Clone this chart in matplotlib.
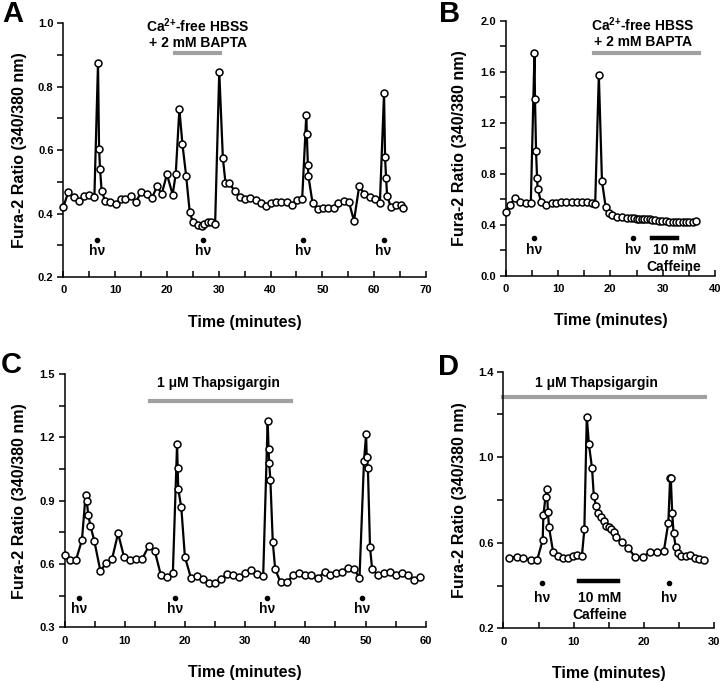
import matplotlib
matplotlib.use('Agg')
import matplotlib.pyplot as plt
import numpy as np
from matplotlib.ticker import MultipleLocator, FormatStrFormatter

plt.rcParams['font.family'] = ['Liberation Sans', 'DejaVu Sans']
plt.rcParams['font.weight'] = 'bold'
plt.rcParams['mathtext.fontset'] = 'custom'
plt.rcParams['mathtext.rm'] = 'Liberation Sans:bold'
plt.rcParams['mathtext.default'] = 'rm'

# ---- panel A: Ca2+-free HBSS + BAPTA ----
a_time = [0, 1, 2, 3, 4, 5, 6, 6.7, 6.9, 7.1, 7.4, 8.1, 9.1, 10.1, 11.1, 12, 13.1, 14, 15, 16.1,
          17.1, 18.1, 19, 20, 21.1, 21.7, 22.4, 23, 23.7, 24.4, 25, 26, 26.8, 27.1, 28, 28.6, 29.3,
          30.1, 30.8, 31.3, 32, 33.1, 34.1, 35.1, 36.1, 37.1, 38.1, 39.1, 40.1, 41.1, 42.1, 43.1,
          44.1, 45.1, 46.1, 46.9, 47.0, 47.2, 47.3, 48.1, 49.1, 50.1, 51.1, 52.2, 53.1, 54.1, 55.1,
          56.1, 57.1, 58.1, 59.1, 60.1, 61.1, 61.9, 62.1, 62.3, 62.5, 63.2, 64.2, 65.2, 65.6]
a_ratio = [0.421, 0.469, 0.453, 0.439, 0.455, 0.459, 0.453, 0.875, 0.605, 0.539, 0.471, 0.439,
           0.436, 0.431, 0.445, 0.445, 0.455, 0.435, 0.468, 0.462, 0.449, 0.486, 0.462, 0.524,
           0.460, 0.524, 0.729, 0.618, 0.520, 0.405, 0.373, 0.365, 0.362, 0.368, 0.373, 0.373,
           0.368, 0.847, 0.574, 0.497, 0.495, 0.472, 0.451, 0.445, 0.449, 0.443, 0.434, 0.424,
           0.434, 0.437, 0.436, 0.435, 0.428, 0.444, 0.446, 0.712, 0.650, 0.554, 0.518, 0.434,
           0.413, 0.418, 0.419, 0.418, 0.434, 0.439, 0.438, 0.377, 0.486, 0.462, 0.452, 0.445,
           0.432, 0.779, 0.577, 0.511, 0.456, 0.421, 0.428, 0.427, 0.419]
a_hv = [6.5, 26.9, 46.3, 61.8]

# ---- panel B: BAPTA then caffeine ----
b_time = [0, 0.8, 1.8, 2.8, 3.8, 4.8, 5.5, 5.6, 5.8, 6.0, 6.1, 6.75, 7.7, 8.8, 9.6, 10.6, 11.6,
          12.6, 13.6, 14.6, 15.6, 16.4, 17.1, 17.8, 18.4, 19.1, 19.7, 20.4, 21.3, 22.3, 23.2,
          24.0, 24.5, 25.0, 25.5, 26.0, 26.5, 27.0, 27.5, 28.0, 28.6, 29.3, 29.9, 30.6, 31.2,
          31.9, 32.5, 33.2, 33.8, 34.5, 35.1, 35.8, 36.4]
b_ratio = [0.504, 0.556, 0.609, 0.582, 0.574, 0.574, 1.749, 1.387, 0.979, 0.765, 0.684, 0.582,
           0.556, 0.571, 0.574, 0.576, 0.578, 0.578, 0.578, 0.578, 0.576, 0.574, 0.564, 1.575,
           0.742, 0.543, 0.496, 0.475, 0.466, 0.462, 0.458, 0.455, 0.452, 0.450, 0.450, 0.448,
           0.447, 0.445, 0.443, 0.440, 0.437, 0.433, 0.430, 0.427, 0.425, 0.423, 0.422, 0.421,
           0.421, 0.421, 0.422, 0.423, 0.431]
b_hv = [5.4, 24.4]

# ---- panel C: thapsigargin ----
c_time = [0, 0.9, 1.9, 2.9, 3.5, 3.7, 3.95, 4.3, 4.95, 5.95, 6.95, 7.9, 8.9, 9.9, 10.9, 11.9,
          12.9, 14.0, 15.0, 16.0, 17.0, 18.0, 18.7, 18.8, 18.9, 19.4, 20.0, 21.0, 22.0, 23.0,
          24.0, 25.0, 26.0, 27.0, 28.0, 29.0, 30.0, 31.0, 32.0, 33.0, 33.75, 33.9, 34.0, 34.2,
          34.6, 35.0, 35.9, 37.0, 38.0, 39.0, 40.0, 41.0, 42.1, 43.2, 44.1, 45.1, 46.1, 47.1,
          48.1, 49.0, 49.75, 50.1, 50.2, 50.4, 50.75, 51.1, 52.1, 53.1, 54.1, 55.1, 56.1, 57.1,
          58.0, 59.0]
c_ratio = [0.642, 0.619, 0.618, 0.714, 0.925, 0.898, 0.832, 0.781, 0.710, 0.568, 0.603, 0.624,
           0.745, 0.632, 0.620, 0.624, 0.624, 0.685, 0.661, 0.548, 0.537, 0.559, 1.167, 1.053,
           0.954, 0.868, 0.634, 0.534, 0.543, 0.529, 0.511, 0.511, 0.529, 0.552, 0.550, 0.536,
           0.559, 0.571, 0.552, 0.541, 1.277, 1.145, 1.080, 0.998, 0.703, 0.575, 0.513, 0.516,
           0.546, 0.559, 0.550, 0.546, 0.532, 0.563, 0.546, 0.556, 0.562, 0.582, 0.578, 0.532,
           1.088, 1.214, 1.108, 1.053, 0.679, 0.576, 0.546, 0.559, 0.563, 0.550, 0.556, 0.546,
           0.524, 0.538]
c_hv = [2.4, 18.4, 33.6, 49.5]

# ---- panel D: thapsigargin + caffeine ----
d_time = [0.8, 1.9, 2.8, 3.9, 4.8, 5.6, 5.7, 6.0, 6.2, 6.35, 6.5, 7.1, 7.8, 8.5, 9.2, 9.9, 10.5,
          11.2, 11.55, 11.9, 12.2, 12.65, 12.9, 13.2, 13.5, 13.9, 14.3, 14.7, 15.0, 15.4, 15.8,
          16.0, 16.9, 17.8, 18.8, 19.9, 20.9, 21.9, 22.9, 23.55, 23.8, 23.9, 24.1, 24.3, 24.6,
          24.9, 25.4, 26.0, 26.7, 27.3, 27.9, 28.6]
d_ratio = [0.529, 0.535, 0.529, 0.519, 0.519, 0.613, 0.728, 0.816, 0.850, 0.743, 0.672, 0.555,
           0.540, 0.527, 0.529, 0.538, 0.543, 0.538, 0.663, 1.190, 1.061, 0.948, 0.820, 0.773,
           0.738, 0.720, 0.700, 0.680, 0.675, 0.665, 0.650, 0.628, 0.602, 0.577, 0.533, 0.535,
           0.555, 0.555, 0.560, 0.694, 0.901, 0.905, 0.738, 0.644, 0.582, 0.550, 0.538, 0.538,
           0.543, 0.530, 0.524, 0.519]
d_hv = [5.5, 23.6]

ylabel = 'Fura-2 Ratio (340/380 nm)'
xlabel = 'Time (minutes)'
bapta_label = ['Ca$^{2{+}}$-free HBSS', '+ 2 mM BAPTA']
tg_label = '1 \u03bcM Thapsigargin'
caf_label = ['10 mM', 'Caffeine']
gray = '#a0a0a0'
W, H = 720, 682

fig = plt.figure(figsize=(7.2, 6.82), dpi=100)


def px_axes(left, top, right, bottom):
    # axes placed from pixel edges of the reference
    return fig.add_axes([left / W, 1 - bottom / H, (right - left) / W, (bottom - top) / H])


def style(ax, xmax, ylim, ymajor):
    for s in ['top', 'right']:
        ax.spines[s].set_visible(False)
    for s in ['left', 'bottom']:
        ax.spines[s].set_linewidth(1.1)
    ax.set_xlim(0, xmax)
    ax.xaxis.set_major_locator(MultipleLocator(10))
    ax.xaxis.set_minor_locator(MultipleLocator(5))
    # labelled ticks start at the bottom of the axis
    ax.set_yticks(np.arange(ylim[0], ylim[1] + 1e-6, ymajor))
    ax.set_yticks(np.arange(ylim[0], ylim[1] + 1e-6, ymajor / 2), minor=True)
    ax.set_ylim(*ylim)
    ax.yaxis.set_major_formatter(FormatStrFormatter('%.1f'))
    ax.tick_params(axis='x', which='both', direction='in', length=4, width=1.1, labelsize=8, pad=6)
    ax.tick_params(axis='y', which='both', direction='out', length=4, width=1.1, labelsize=8, pad=3)


def trace(ax, t, r):
    ax.plot(t, r, '-o', color='black', lw=1.6, ms=5, mfc='white', mec='black', mew=1.1,
            clip_on=False, zorder=3)


def hv(ax, xs, ydot, ytxt):
    ax.plot(xs, [ydot] * len(xs), 'o', color='black', ms=3)
    for x in xs:
        ax.text(x, ytxt, 'h\u03bd', ha='center', va='center', fontsize=10)


def labels(letter, ax_left, ax_right, top, bottom, ylab_x, letter_x, letter_base):
    cy = 1 - (top + bottom) / 2 / H
    fig.text(ylab_x / W, cy, ylabel, rotation=90, ha='center', va='center', fontsize=11.5)
    fig.text((ax_left + ax_right) / 2 / W, 1 - (bottom + 45) / H, xlabel, ha='center',
             va='center', fontsize=11.5)
    fig.text(letter_x / W, 1 - letter_base / H, letter, ha='center', va='baseline',
             fontsize=21)


# A
axA = px_axes(63.3, 23.3, 426, 277)
style(axA, 70, (0.2, 1.0), 0.2)
trace(axA, a_time, a_ratio)
hv(axA, a_hv, 0.317, 0.283)
axA.plot([21.6, 30.2], [0.906, 0.906], color=gray, lw=3)
axA.text(26, 0.994, bapta_label[0], ha='center', va='center', fontsize=10)
axA.text(26, 0.938, bapta_label[1], ha='center', va='center', fontsize=10)
labels('A', 63.3, 426, 23.3, 277, 20, 13, 22)

# B
axB = px_axes(505.7, 20.7, 715, 276)
style(axB, 40, (0.0, 2.0), 0.4)
trace(axB, b_time, b_ratio)
hv(axB, b_hv, 0.295, 0.20)
axB.plot([16.9, 37], [1.75, 1.75], color=gray, lw=3)
axB.text(26.2, 1.966, bapta_label[0], ha='center', va='center', fontsize=10)
axB.text(26.2, 1.835, bapta_label[1], ha='center', va='center', fontsize=10)
axB.plot([27.9, 32.8], [0.298, 0.298], color='black', lw=3.2)
axB.text(32.2, 0.20, caf_label[0], ha='center', va='center', fontsize=10)
axB.text(32.2, 0.073, caf_label[1], ha='center', va='center', fontsize=10)
labels('B', 505.7, 715, 20.7, 276, 460, 450, 22)

# C
axC = px_axes(64.5, 374, 425.7, 627.3)
style(axC, 60, (0.3, 1.5), 0.3)
trace(axC, c_time, c_ratio)
hv(axC, c_hv, 0.437, 0.385)
axC.plot([14.2, 37.7], [1.373, 1.373], color=gray, lw=3)
axC.text(25.5, 1.456, tg_label, ha='center', va='center', fontsize=10)
labels('C', 64.5, 425.7, 374, 627.3, 20, 11, 373)

# D
axD = px_axes(503.5, 371.7, 713.5, 628.3)
style(axD, 30, (0.2, 1.4), 0.4)
trace(axD, d_time, d_ratio)
hv(axD, d_hv, 0.413, 0.34)
axD.plot([0, 28.8], [1.283, 1.283], color=gray, lw=3, clip_on=False)
axD.text(13.3, 1.349, tg_label, ha='center', va='center', fontsize=10)
axD.plot([10.8, 16.4], [0.423, 0.423], color='black', lw=3.2)
axD.text(13.7, 0.34, caf_label[0], ha='center', va='center', fontsize=10)
axD.text(13.7, 0.262, caf_label[1], ha='center', va='center', fontsize=10)
labels('D', 503.5, 713.5, 371.7, 628.3, 460, 449, 375)

fig.savefig('out.png', dpi=100)
